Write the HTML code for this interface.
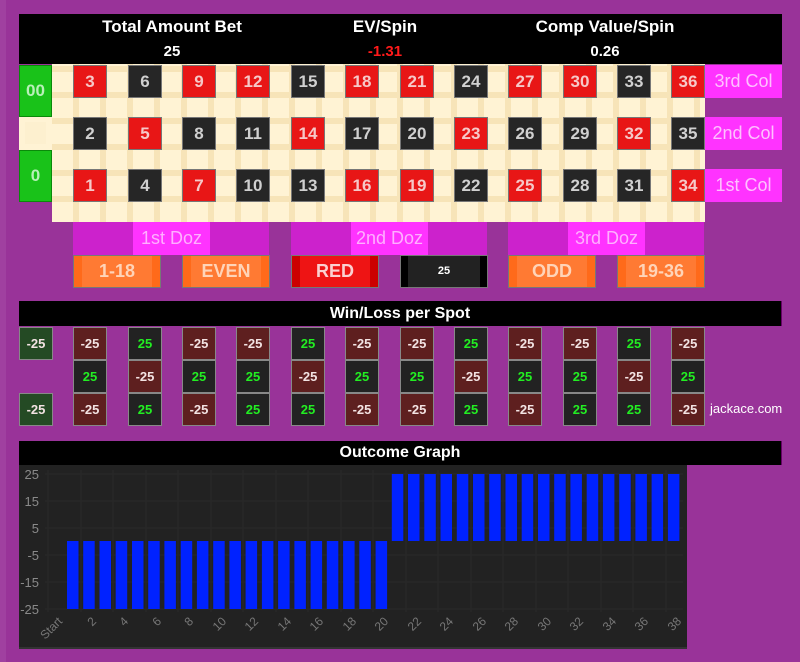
<!DOCTYPE html>
<html><head><meta charset="utf-8">
<style>
*{margin:0;padding:0;box-sizing:border-box}
body{width:800px;height:662px;background:#993399;font-family:"Liberation Sans",Arial,sans-serif;position:relative;overflow:hidden}
div{position:absolute}
.hd{background:#000;color:#fff;font-weight:bold;text-align:center}
.n{width:34px;height:33px;border:1px solid #777;font-weight:bold;font-size:17px;line-height:31px;text-align:center}
.R{background:#e81616;color:#f6c8c8}
.B{background:#262626;color:#d0d0d0}
.g{background:#19c219;color:#b8f0b8;font-weight:bold;font-size:17px;text-align:center;border:1px solid #0a8a0a}
.col{background:#ff33ff;color:#ffc0ff;font-size:18px;text-align:center;width:77px;height:33px;line-height:33px;left:705px}
.dz{background:#cc22cc;height:33px;width:196px}
.dz span{position:absolute;left:60px;width:77px;height:33px;background:#ff33ff;color:#ffb0ff;font-size:18px;line-height:33px;text-align:center}
.ob{height:33px;width:88px;font-weight:bold;font-size:18px;line-height:31px;text-align:center;top:255px;border:1px solid #777}
.O{background:#ff7a33;color:#ffd4b8;box-shadow:inset 8px 0 0 #ff6a1a,inset -8px 0 0 #ff6a1a}
.w{width:34px;height:33px;border:1px solid #888;font-weight:bold;font-size:13px;line-height:31px;text-align:center}
.L{background:#5e1f1f;color:#f3e3e3}
.W{background:#222;color:#22ee22}
.G{background:#244a24;color:#f3e3e3}
</style></head><body>
<div style="left:0;top:0;width:800px;height:662px;border-left:6px solid #a040a0"></div>
<div class="hd" style="left:19px;top:14px;width:763px;height:50px"></div>
<div class="hd" style="left:72px;top:17px;width:200px;font-size:17px">Total Amount Bet</div>
<div class="hd" style="left:72px;top:43px;width:200px;font-size:15px">25</div>
<div class="hd" style="left:285px;top:17px;width:200px;font-size:17px">EV/Spin</div>
<div class="hd" style="left:285px;top:43px;width:200px;font-size:15px;color:#ff1a1a">-1.31</div>
<div class="hd" style="left:505px;top:17px;width:200px;font-size:17px">Comp Value/Spin</div>
<div class="hd" style="left:505px;top:43px;width:200px;font-size:15px">0.26</div>

<div style="left:52px;top:64px;width:653px;height:158px;background:#fff3d4;background-image:repeating-linear-gradient(90deg,transparent 0 21px,#f7e4b8 21px 27px),repeating-linear-gradient(0deg,transparent 0 20px,#f7e4b8 20px 26px)"></div>
<div style="left:19px;top:117px;width:33px;height:33px;background:#fff3d4"></div>
<div style="left:25px;top:122px;width:21px;height:22px;background:#fdf0cf"></div>
<div class="g" style="left:19px;top:65px;width:33px;height:52px;line-height:50px">00</div>
<div class="g" style="left:19px;top:150px;width:33px;height:52px;line-height:50px">0</div>

<div class="n R" style="left:73px;top:65px">3</div><div class="n B" style="left:128px;top:65px">6</div><div class="n R" style="left:182px;top:65px">9</div><div class="n R" style="left:236px;top:65px">12</div><div class="n B" style="left:291px;top:65px">15</div><div class="n R" style="left:345px;top:65px">18</div><div class="n R" style="left:400px;top:65px">21</div><div class="n B" style="left:454px;top:65px">24</div><div class="n R" style="left:508px;top:65px">27</div><div class="n R" style="left:563px;top:65px">30</div><div class="n B" style="left:617px;top:65px">33</div><div class="n R" style="left:671px;top:65px">36</div>
<div class="n B" style="left:73px;top:117px">2</div><div class="n R" style="left:128px;top:117px">5</div><div class="n B" style="left:182px;top:117px">8</div><div class="n B" style="left:236px;top:117px">11</div><div class="n R" style="left:291px;top:117px">14</div><div class="n B" style="left:345px;top:117px">17</div><div class="n B" style="left:400px;top:117px">20</div><div class="n R" style="left:454px;top:117px">23</div><div class="n B" style="left:508px;top:117px">26</div><div class="n B" style="left:563px;top:117px">29</div><div class="n R" style="left:617px;top:117px">32</div><div class="n B" style="left:671px;top:117px">35</div>
<div class="n R" style="left:73px;top:169px">1</div><div class="n B" style="left:128px;top:169px">4</div><div class="n R" style="left:182px;top:169px">7</div><div class="n B" style="left:236px;top:169px">10</div><div class="n B" style="left:291px;top:169px">13</div><div class="n R" style="left:345px;top:169px">16</div><div class="n R" style="left:400px;top:169px">19</div><div class="n B" style="left:454px;top:169px">22</div><div class="n R" style="left:508px;top:169px">25</div><div class="n B" style="left:563px;top:169px">28</div><div class="n B" style="left:617px;top:169px">31</div><div class="n R" style="left:671px;top:169px">34</div>

<div class="col" style="top:65px">3rd Col</div>
<div class="col" style="top:117px">2nd Col</div>
<div class="col" style="top:169px">1st Col</div>

<div class="dz" style="left:73px;top:222px"><span>1st Doz</span></div>
<div class="dz" style="left:291px;top:222px"><span>2nd Doz</span></div>
<div class="dz" style="left:508px;top:222px"><span>3rd Doz</span></div>

<div class="ob O" style="left:73px">1-18</div>
<div class="ob O" style="left:182px">EVEN</div>
<div class="ob" style="left:291px;background:#ee1414;color:#fbd0d0;box-shadow:inset 8px 0 0 #cc0000,inset -8px 0 0 #cc0000">RED</div>
<div class="ob" style="left:400px;background:#222;color:#fff;font-size:11px;box-shadow:inset 7px 0 0 #000,inset -7px 0 0 #000">25</div>
<div class="ob O" style="left:508px">ODD</div>
<div class="ob O" style="left:617px">19-36</div>

<div class="hd" style="left:19px;top:301px;width:763px;height:25px;font-size:16px;line-height:25px;border-right:1px solid #660066">Win/Loss per Spot</div>
<div class="w G" style="left:19px;top:327px">-25</div>
<div class="w G" style="left:19px;top:393px">-25</div>

<div class="w L" style="left:73px;top:327px">-25</div><div class="w W" style="left:128px;top:327px">25</div><div class="w L" style="left:182px;top:327px">-25</div><div class="w L" style="left:236px;top:327px">-25</div><div class="w W" style="left:291px;top:327px">25</div><div class="w L" style="left:345px;top:327px">-25</div><div class="w L" style="left:400px;top:327px">-25</div><div class="w W" style="left:454px;top:327px">25</div><div class="w L" style="left:508px;top:327px">-25</div><div class="w L" style="left:563px;top:327px">-25</div><div class="w W" style="left:617px;top:327px">25</div><div class="w L" style="left:671px;top:327px">-25</div>
<div class="w W" style="left:73px;top:360px">25</div><div class="w L" style="left:128px;top:360px">-25</div><div class="w W" style="left:182px;top:360px">25</div><div class="w W" style="left:236px;top:360px">25</div><div class="w L" style="left:291px;top:360px">-25</div><div class="w W" style="left:345px;top:360px">25</div><div class="w W" style="left:400px;top:360px">25</div><div class="w L" style="left:454px;top:360px">-25</div><div class="w W" style="left:508px;top:360px">25</div><div class="w W" style="left:563px;top:360px">25</div><div class="w L" style="left:617px;top:360px">-25</div><div class="w W" style="left:671px;top:360px">25</div>
<div class="w L" style="left:73px;top:393px">-25</div><div class="w W" style="left:128px;top:393px">25</div><div class="w L" style="left:182px;top:393px">-25</div><div class="w W" style="left:236px;top:393px">25</div><div class="w W" style="left:291px;top:393px">25</div><div class="w L" style="left:345px;top:393px">-25</div><div class="w L" style="left:400px;top:393px">-25</div><div class="w W" style="left:454px;top:393px">25</div><div class="w L" style="left:508px;top:393px">-25</div><div class="w W" style="left:563px;top:393px">25</div><div class="w W" style="left:617px;top:393px">25</div><div class="w L" style="left:671px;top:393px">-25</div>
<div style="left:710px;top:401px;color:#fff;font-size:13px">jackace.com</div>

<div class="hd" style="left:19px;top:441px;width:763px;height:24px;font-size:16px;line-height:24px;border-right:1px solid #660066">Outcome Graph</div>
<svg style="position:absolute;left:19px;top:465px" width="668" height="184" viewBox="19 465 668 184" font-family="Liberation Sans,Arial,sans-serif">
<rect x="19" y="465" width="668" height="184" fill="#222"/>
<line x1="19" y1="648" x2="687" y2="648" stroke="#444"/>
<g stroke="#292929" stroke-width="1">
<line x1="45" y1="474" x2="683" y2="474"/><line x1="45" y1="501" x2="683" y2="501"/><line x1="45" y1="528" x2="683" y2="528"/><line x1="45" y1="555" x2="683" y2="555"/><line x1="45" y1="582" x2="683" y2="582"/><line x1="45" y1="609" x2="683" y2="609"/>
<line x1="48" y1="470" x2="48" y2="612"/><line x1="81" y1="470" x2="81" y2="612"/><line x1="113" y1="470" x2="113" y2="612"/><line x1="146" y1="470" x2="146" y2="612"/><line x1="178" y1="470" x2="178" y2="612"/><line x1="211" y1="470" x2="211" y2="612"/><line x1="243" y1="470" x2="243" y2="612"/><line x1="276" y1="470" x2="276" y2="612"/><line x1="308" y1="470" x2="308" y2="612"/><line x1="341" y1="470" x2="341" y2="612"/><line x1="373" y1="470" x2="373" y2="612"/><line x1="406" y1="470" x2="406" y2="612"/><line x1="438" y1="470" x2="438" y2="612"/><line x1="471" y1="470" x2="471" y2="612"/><line x1="503" y1="470" x2="503" y2="612"/><line x1="536" y1="470" x2="536" y2="612"/><line x1="568" y1="470" x2="568" y2="612"/><line x1="601" y1="470" x2="601" y2="612"/><line x1="633" y1="470" x2="633" y2="612"/><line x1="666" y1="470" x2="666" y2="612"/>
</g>
<g fill="#8a8a8a" font-size="13" text-anchor="end">
<text x="39" y="479">25</text><text x="39" y="506">15</text><text x="39" y="533">5</text><text x="39" y="560">-5</text><text x="39" y="587">-15</text><text x="39" y="614">-25</text>
</g>
<g fill="#0022ff">
<rect x="67" y="541" width="11.5" height="68"/><rect x="83.2" y="541" width="11.5" height="68"/><rect x="99.5" y="541" width="11.5" height="68"/><rect x="115.7" y="541" width="11.5" height="68"/><rect x="132" y="541" width="11.5" height="68"/><rect x="148.2" y="541" width="11.5" height="68"/><rect x="164.4" y="541" width="11.5" height="68"/><rect x="180.7" y="541" width="11.5" height="68"/><rect x="196.9" y="541" width="11.5" height="68"/><rect x="213.2" y="541" width="11.5" height="68"/><rect x="229.4" y="541" width="11.5" height="68"/><rect x="245.6" y="541" width="11.5" height="68"/><rect x="261.9" y="541" width="11.5" height="68"/><rect x="278.1" y="541" width="11.5" height="68"/><rect x="294.4" y="541" width="11.5" height="68"/><rect x="310.6" y="541" width="11.5" height="68"/><rect x="326.8" y="541" width="11.5" height="68"/><rect x="343.1" y="541" width="11.5" height="68"/><rect x="359.3" y="541" width="11.5" height="68"/><rect x="375.6" y="541" width="11.5" height="68"/>
<rect x="391.8" y="474" width="11.5" height="67"/><rect x="408" y="474" width="11.5" height="67"/><rect x="424.3" y="474" width="11.5" height="67"/><rect x="440.5" y="474" width="11.5" height="67"/><rect x="456.8" y="474" width="11.5" height="67"/><rect x="473" y="474" width="11.5" height="67"/><rect x="489.2" y="474" width="11.5" height="67"/><rect x="505.5" y="474" width="11.5" height="67"/><rect x="521.7" y="474" width="11.5" height="67"/><rect x="538" y="474" width="11.5" height="67"/><rect x="554.2" y="474" width="11.5" height="67"/><rect x="570.4" y="474" width="11.5" height="67"/><rect x="586.7" y="474" width="11.5" height="67"/><rect x="602.9" y="474" width="11.5" height="67"/><rect x="619.2" y="474" width="11.5" height="67"/><rect x="635.4" y="474" width="11.5" height="67"/><rect x="651.6" y="474" width="11.5" height="67"/><rect x="667.9" y="474" width="11.5" height="67"/>
</g>
<g fill="#777" font-size="12" text-anchor="end">
<text transform="translate(63,622) rotate(-45)">Start</text>
<text transform="translate(97,622) rotate(-45)">2</text><text transform="translate(129,622) rotate(-45)">4</text><text transform="translate(162,622) rotate(-45)">6</text><text transform="translate(194,622) rotate(-45)">8</text><text transform="translate(227,622) rotate(-45)">10</text><text transform="translate(259,622) rotate(-45)">12</text><text transform="translate(292,622) rotate(-45)">14</text><text transform="translate(324,622) rotate(-45)">16</text><text transform="translate(357,622) rotate(-45)">18</text><text transform="translate(389,622) rotate(-45)">20</text><text transform="translate(422,622) rotate(-45)">22</text><text transform="translate(454,622) rotate(-45)">24</text><text transform="translate(487,622) rotate(-45)">26</text><text transform="translate(519,622) rotate(-45)">28</text><text transform="translate(552,622) rotate(-45)">30</text><text transform="translate(584,622) rotate(-45)">32</text><text transform="translate(617,622) rotate(-45)">34</text><text transform="translate(649,622) rotate(-45)">36</text><text transform="translate(682,622) rotate(-45)">38</text>
</g>
</svg>
</body></html>
